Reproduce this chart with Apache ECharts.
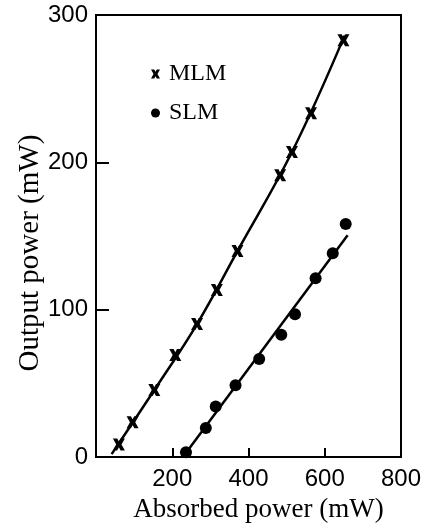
<!DOCTYPE html>
<html>
<head>
<meta charset="utf-8">
<script src="https://cdn.jsdelivr.net/npm/echarts@6/dist/echarts.min.js"></script>
<style>
  html, body { margin: 0; padding: 0; background: #fff; }
  #container { width: 435px; height: 528px; }
</style>
</head>
<body>
<div id="container"></div>
<script>
// data (absorbed mW, output mW)
var mlmPoints = [[60, 8.6], [96, 23.7], [153, 45.5], [208, 69.2], [265, 90.3], [317, 113.4],
                 [371, 139.8], [483, 191.2], [514, 207], [564, 233.4], [649, 282.8]];
var slmPoints = [[236, 3.3], [288, 19.8], [314, 34.3], [366, 48.8], [428, 66.6], [486, 83.1],
                 [522, 96.9], [576, 121.3], [621, 138.4], [655, 158.2]];
// hand drawn fit lines
var mlmFit = [[41, 2], [153, 45.5], [265, 90.3], [371, 139.8], [514, 207], [652, 286]];
var slmFit = [[228, 0], [660, 150.5]];
var xTicks = [0, 200, 400, 600, 800];
var yTicks = [0, 100, 200, 300];

// heavy x used for the MLM marks
var crossPath = 'path://M0,0 L3.6,0 L5,2.6 L6.4,0 L10,0 L7.2,5 L10,10 L6.4,10 L5,7.4 L3.6,10 L0,10 L2.8,5 Z';
var serif = '"Liberation Serif", "DejaVu Serif", serif';
var sans = '"Liberation Sans", Arial, sans-serif';

var myChart = echarts.init(document.getElementById('container'));

var option = {
    backgroundColor: '#fff',
    animation: false,
    grid: {
        left: 96, top: 15, right: 34, bottom: 58,
        show: true, borderColor: '#000', borderWidth: 2, backgroundColor: 'transparent'
    },
    legend: {
        orient: 'vertical',
        left: 146, top: 57,
        itemWidth: 9, itemHeight: 9, itemGap: 15,
        textStyle: { fontFamily: serif, fontSize: 24, color: '#000', padding: [0, 0, 0, 4] },
        data: [
            { name: 'MLM', icon: crossPath, itemStyle: { color: '#000' } },
            { name: 'SLM', icon: 'circle', itemStyle: { color: '#000' } }
        ]
    },
    xAxis: {
        type: 'value',
        min: xTicks[0], max: xTicks[xTicks.length - 1], interval: 200,
        name: 'Absorbed power (mW)',
        nameLocation: 'middle', nameGap: 35,
        nameTextStyle: { fontFamily: serif, fontSize: 27, color: '#000', padding: [0, 0, 0, 20] },
        axisLine: { lineStyle: { color: '#000', width: 2 } },
        axisTick: { inside: true, length: 9, lineStyle: { color: '#000', width: 2 } },
        axisLabel: {
            fontFamily: sans, fontSize: 24, color: '#000', margin: 10,
            formatter: function (v) { return v === 0 ? '' : v; }
        },
        splitLine: { show: false }
    },
    yAxis: {
        type: 'value',
        min: yTicks[0], max: yTicks[yTicks.length - 1], interval: 100,
        name: 'Output power (mW)',
        nameLocation: 'middle', nameGap: 51, nameMoveOverlap: false,
        nameTextStyle: { fontFamily: serif, fontSize: 29, color: '#000', padding: [0, 34, 0, 0] },
        axisLine: { lineStyle: { color: '#000', width: 2 } },
        axisTick: { inside: true, length: 13, lineStyle: { color: '#000', width: 2 } },
        axisLabel: { fontFamily: sans, fontSize: 24, color: '#000', margin: 8 },
        splitLine: { show: false }
    },
    series: [
        {
            name: 'MLM fit', type: 'line', data: mlmFit, smooth: 0.4,
            symbol: 'none', lineStyle: { color: '#000', width: 2.5 }, z: 2
        },
        {
            name: 'SLM fit', type: 'line', data: slmFit,
            symbol: 'none', lineStyle: { color: '#000', width: 2.5 }, z: 2
        },
        {
            name: 'MLM', type: 'scatter', data: mlmPoints,
            symbol: crossPath, symbolSize: 12, itemStyle: { color: '#000', opacity: 1 }, z: 3
        },
        {
            name: 'SLM', type: 'scatter', data: slmPoints,
            symbol: 'circle', symbolSize: 12, itemStyle: { color: '#000', opacity: 1 }, z: 3
        }
    ]
};

myChart.setOption(option);
</script>
</body>
</html>
